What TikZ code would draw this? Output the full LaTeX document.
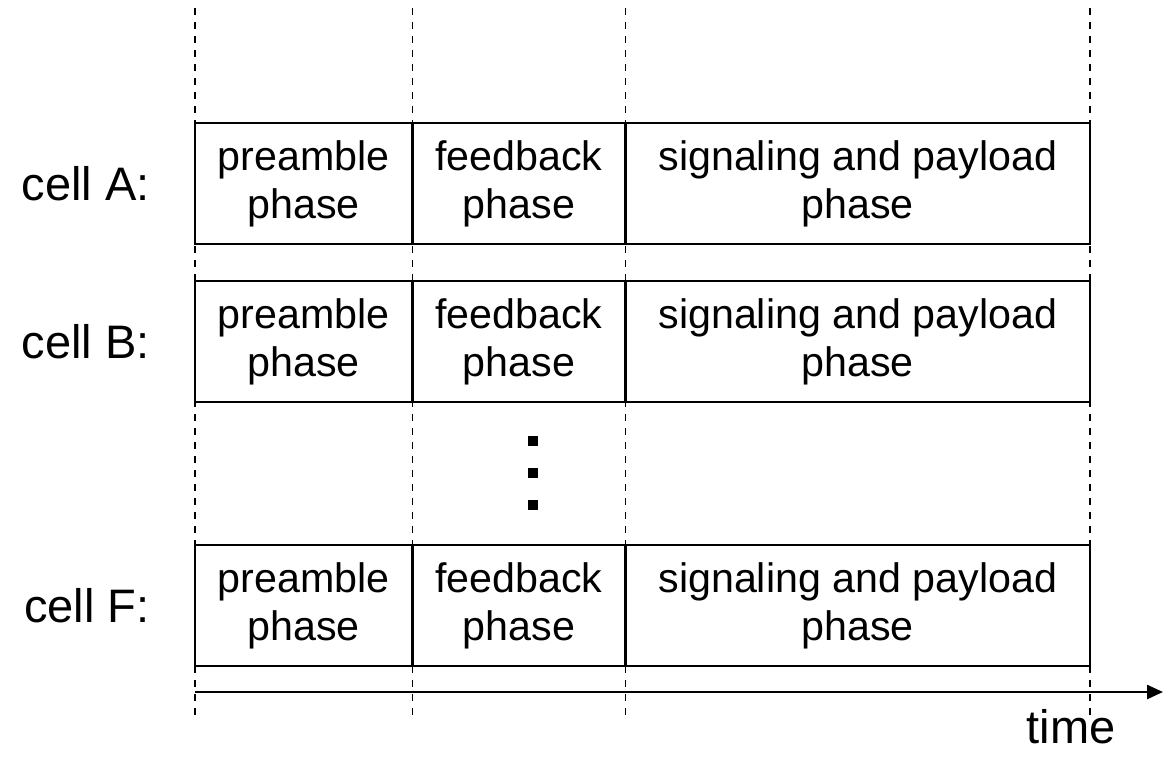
\documentclass[tikz,border=0pt]{standalone}
\usepackage{fontspec}
\setmainfont{Liberation Sans}
\usetikzlibrary{arrows.meta, positioning}
\tikzstyle{phase} = [rectangle, draw=black, line width=1.2pt, minimum height=60.5pt, inner sep=0pt, outer sep=0pt, align=center, font=\fontsize{20.6}{24}\selectfont]
\tikzstyle{pre} = [phase, minimum width=108.75pt]
\tikzstyle{feed} = [phase, minimum width=106.5pt]
\tikzstyle{sig} = [phase, minimum width=232.25pt]
\tikzstyle{cell} = [inner sep=0pt, font=\fontsize{23.5}{28}\selectfont]
\tikzstyle{grid} = [line width=0.6pt, dash pattern=on 3.5pt off 3.5pt]
\tikzstyle{arrow} = [line width=1.2pt, -{Triangle[length=8pt,width=7pt]}]

\begin{document}
\begin{tikzpicture}[x=0.5pt, y=-0.5pt]
\useasboundingbox (0,0) rectangle (1165,756);

% time grid
\foreach \x/\n in {195/1, 412.5/2, 625.5/3, 1090/4} {
  \coordinate (top\n) at (\x,8);
  \coordinate (bot\n) at (\x,715);
  \draw [grid] (top\n) -- (bot\n);
}

% cell A
\node (preA) [pre, anchor=north west] at (195,123) {preamble\\phase};
\node (feedA) [feed, right=0pt of preA] {feedback\\phase};
\node (sigA) [sig, right=0pt of feedA] {signaling and payload\\phase};
\node (cellA) [cell, left=22.5pt of preA] {cell A:};

% cell B
\node (preB) [pre, below=18.5pt of preA] {preamble\\phase};
\node (feedB) [feed, right=0pt of preB] {feedback\\phase};
\node (sigB) [sig, right=0pt of feedB] {signaling and payload\\phase};
\node (cellB) [cell, left=22.5pt of preB] {cell B:};

% cell F
\node (preF) [pre, below=71.5pt of preB] {preamble\\phase};
\node (feedF) [feed, right=0pt of preF] {feedback\\phase};
\node (sigF) [sig, right=0pt of feedF] {signaling and payload\\phase};
\node (cellF) [cell, left=22.5pt of preF] {cell F:};

% dots
\foreach \y in {441, 473, 505}
  \fill (528,\y-5) rectangle (538,\y+5);

% time axis
\coordinate (tstart) at (195,692);
\coordinate (tend) at (1163,692);
\draw [arrow] (tstart) -- (tend);
\node (time) [cell] at (1071,727) {time};

\end{tikzpicture}
\end{document}
